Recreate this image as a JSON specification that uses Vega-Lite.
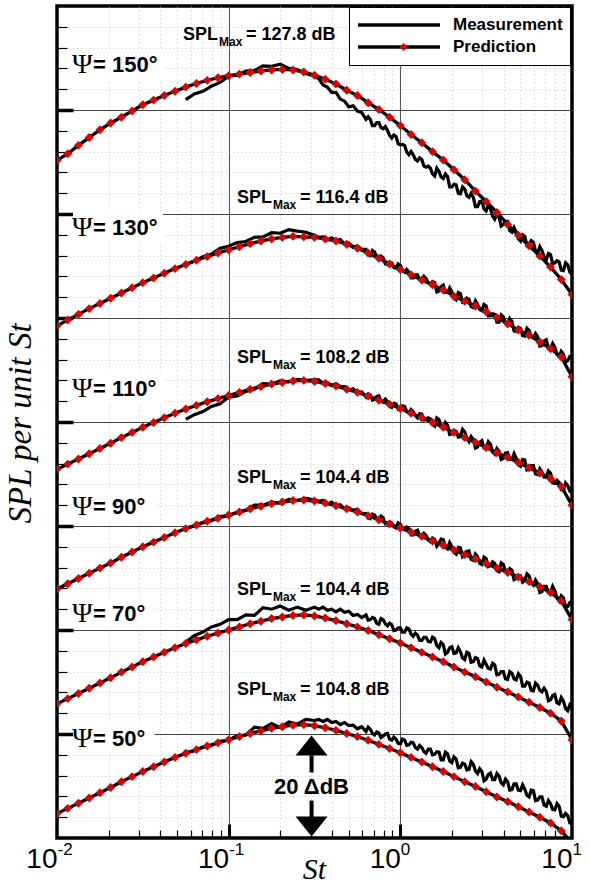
{
  "$schema": "https://vega.github.io/schema/vega-lite/v6.json",
  "width": 515,
  "height": 832,
  "autosize": {"type": "none"},
  "padding": {"left": 57, "top": 6, "right": 18, "bottom": 48},
  "background": "white",
  "config": {
    "view": {"stroke": "black", "strokeWidth": 3.5},
    "axis": {"domain": false, "labelFont": "Liberation Sans", "labelColor": "black"}
  },
  "resolve": {"axis": {"x": "independent", "y": "independent"}},
  "datasets": {
    "pred": [
      {"St":0.01,"p150":130.3,"p130":98.5,"p110":70.9,"p90":47.9,"p70":25.8,"p50":4.7},
      {"St":0.011548,"p150":131.6,"p130":99.6,"p110":71.9,"p90":48.9,"p70":26.8,"p50":5.7},
      {"St":0.013335,"p150":133.2,"p130":100.7,"p110":72.9,"p90":49.9,"p70":27.8,"p50":6.7},
      {"St":0.015399,"p150":134.7,"p130":101.8,"p110":73.9,"p90":50.9,"p70":28.8,"p50":7.7},
      {"St":0.017783,"p150":136.2,"p130":102.8,"p110":74.9,"p90":51.9,"p70":29.8,"p50":8.7},
      {"St":0.020535,"p150":137.5,"p130":103.8,"p110":75.9,"p90":52.9,"p70":30.8,"p50":9.7},
      {"St":0.023714,"p150":138.6,"p130":104.8,"p110":77.0,"p90":54.0,"p70":31.9,"p50":10.8},
      {"St":0.027384,"p150":139.8,"p130":105.8,"p110":78.0,"p90":55.0,"p70":32.9,"p50":11.8},
      {"St":0.031623,"p150":141.0,"p130":106.8,"p110":79.0,"p90":56.0,"p70":33.9,"p50":12.8},
      {"St":0.036517,"p150":141.9,"p130":107.7,"p110":79.9,"p90":56.9,"p70":34.8,"p50":13.7},
      {"St":0.04217,"p150":142.8,"p130":108.6,"p110":80.8,"p90":57.8,"p70":35.7,"p50":14.6},
      {"St":0.048697,"p150":143.6,"p130":109.5,"p110":81.7,"p90":58.7,"p70":36.6,"p50":15.5},
      {"St":0.056234,"p150":144.4,"p130":110.3,"p110":82.5,"p90":59.5,"p70":37.4,"p50":16.3},
      {"St":0.064938,"p150":145.1,"p130":111.1,"p110":83.2,"p90":60.2,"p70":38.1,"p50":17.0},
      {"St":0.074989,"p150":145.7,"p130":111.8,"p110":83.9,"p90":60.9,"p70":38.8,"p50":17.7},
      {"St":0.086596,"p150":146.2,"p130":112.5,"p110":84.5,"p90":61.5,"p70":39.4,"p50":18.3},
      {"St":0.1,"p150":146.6,"p130":113.1,"p110":85.1,"p90":62.1,"p70":40.0,"p50":18.9},
      {"St":0.11548,"p150":146.9,"p130":113.7,"p110":85.7,"p90":62.7,"p70":40.6,"p50":19.5},
      {"St":0.13335,"p150":147.2,"p130":114.3,"p110":86.3,"p90":63.3,"p70":41.2,"p50":20.1},
      {"St":0.15399,"p150":147.5,"p130":114.8,"p110":86.8,"p90":63.8,"p70":41.7,"p50":20.6},
      {"St":0.17783,"p150":147.7,"p130":115.2,"p110":87.3,"p90":64.3,"p70":42.2,"p50":21.1},
      {"St":0.20535,"p150":147.8,"p130":115.5,"p110":87.6,"p90":64.6,"p70":42.5,"p50":21.4},
      {"St":0.23714,"p150":147.7,"p130":115.7,"p110":87.9,"p90":64.9,"p70":42.8,"p50":21.7},
      {"St":0.27384,"p150":147.3,"p130":115.6,"p110":88.0,"p90":65.0,"p70":42.9,"p50":21.8},
      {"St":0.31623,"p150":146.7,"p130":115.5,"p110":87.8,"p90":64.8,"p70":42.7,"p50":21.6},
      {"St":0.36517,"p150":145.9,"p130":115.2,"p110":87.4,"p90":64.4,"p70":42.3,"p50":21.2},
      {"St":0.4217,"p150":145.0,"p130":114.8,"p110":86.9,"p90":63.9,"p70":41.8,"p50":20.7},
      {"St":0.48697,"p150":143.8,"p130":114.2,"p110":86.3,"p90":63.3,"p70":41.2,"p50":20.1},
      {"St":0.56234,"p150":142.8,"p130":113.4,"p110":85.7,"p90":62.7,"p70":40.6,"p50":19.5},
      {"St":0.64938,"p150":141.4,"p130":112.5,"p110":85.0,"p90":62.0,"p70":39.9,"p50":18.8},
      {"St":0.74989,"p150":140.1,"p130":111.5,"p110":84.2,"p90":61.2,"p70":39.1,"p50":18.0},
      {"St":0.86596,"p150":138.6,"p130":110.4,"p110":83.4,"p90":60.4,"p70":38.3,"p50":17.2},
      {"St":1,"p150":137.0,"p130":109.3,"p110":82.6,"p90":59.6,"p70":37.5,"p50":16.4},
      {"St":1.1548,"p150":135.3,"p130":108.3,"p110":81.7,"p90":58.8,"p70":36.6,"p50":15.5},
      {"St":1.3335,"p150":133.7,"p130":107.3,"p110":80.8,"p90":58.0,"p70":35.7,"p50":14.6},
      {"St":1.5399,"p150":132.0,"p130":106.4,"p110":79.9,"p90":57.1,"p70":34.8,"p50":13.7},
      {"St":1.7783,"p150":130.4,"p130":105.4,"p110":79.0,"p90":56.3,"p70":33.9,"p50":12.8},
      {"St":2.0535,"p150":128.5,"p130":104.2,"p110":78.0,"p90":55.4,"p70":32.9,"p50":11.8},
      {"St":2.3714,"p150":126.6,"p130":103.2,"p110":77.0,"p90":54.5,"p70":31.9,"p50":10.8},
      {"St":2.7384,"p150":124.4,"p130":102.3,"p110":76.1,"p90":53.7,"p70":31.0,"p50":9.9},
      {"St":3.1623,"p150":122.4,"p130":101.2,"p110":75.1,"p90":52.8,"p70":30.0,"p50":8.9},
      {"St":3.6517,"p150":120.3,"p130":100.1,"p110":74.1,"p90":51.9,"p70":29.0,"p50":7.9},
      {"St":4.217,"p150":118.0,"p130":98.9,"p110":73.2,"p90":51.1,"p70":28.1,"p50":7.0},
      {"St":4.8697,"p150":115.9,"p130":97.7,"p110":72.2,"p90":50.2,"p70":27.1,"p50":6.0},
      {"St":5.6234,"p150":113.9,"p130":96.7,"p110":71.2,"p90":49.3,"p70":26.1,"p50":5.0},
      {"St":6.4938,"p150":111.9,"p130":95.4,"p110":70.2,"p90":48.3,"p70":25.1,"p50":4.0},
      {"St":7.4989,"p150":109.8,"p130":94.1,"p110":69.1,"p90":47.2,"p70":24.0,"p50":2.9},
      {"St":8.6596,"p150":107.4,"p130":92.5,"p110":67.6,"p90":45.6,"p70":22.5,"p50":1.4},
      {"St":10,"p150":104.5,"p130":88.7,"p110":64.0,"p90":42.0,"p70":18.9,"p50":-1.0}
    ],
    "meas": [
      {"St":0.056234,"m150":142.0,"m130":110.4,"m110":80.5,"m90":59.6,"m70":37.7,"m50":16.4},
      {"St":0.063096,"m150":143.1,"m130":110.9,"m110":81.4,"m90":60.0,"m70":38.9,"m50":16.8},
      {"St":0.070795,"m150":143.6,"m130":111.8,"m110":82.0,"m90":60.7,"m70":39.6,"m50":17.5},
      {"St":0.079433,"m150":144.6,"m130":112.3,"m110":83.0,"m90":61.0,"m70":40.6,"m50":17.8},
      {"St":0.089125,"m150":145.3,"m130":113.4,"m110":83.5,"m90":61.8,"m70":41.1,"m50":18.6},
      {"St":0.1,"m150":146.5,"m130":113.8,"m110":84.8,"m90":62.0,"m70":42.0,"m50":18.8},
      {"St":0.1122,"m150":146.7,"m130":114.5,"m110":85.0,"m90":62.7,"m70":42.0,"m50":19.7},
      {"St":0.12589,"m150":147.5,"m130":114.7,"m110":85.9,"m90":63.0,"m70":42.9,"m50":19.8},
      {"St":0.14125,"m150":147.6,"m130":115.5,"m110":86.3,"m90":64.0,"m70":42.8,"m50":21.3},
      {"St":0.15849,"m150":148.5,"m130":115.6,"m110":87.4,"m90":64.0,"m70":44.3,"m50":21.1},
      {"St":0.17783,"m150":148.4,"m130":116.4,"m110":87.3,"m90":64.6,"m70":44.0,"m50":22.0},
      {"St":0.19953,"m150":148.8,"m130":116.3,"m110":87.9,"m90":64.4,"m70":44.6,"m50":21.2},
      {"St":0.22387,"m150":148.0,"m130":117.0,"m110":87.7,"m90":65.1,"m70":43.8,"m50":22.3},
      {"St":0.25119,"m150":147.8,"m130":116.7,"m110":88.2,"m90":64.9,"m70":44.4,"m50":21.9},
      {"St":0.28184,"m150":147.0,"m130":116.5,"m110":88.0,"m90":65.3,"m70":43.8,"m50":22.8},
      {"St":0.31623,"m150":146.5,"m130":115.9,"m110":88.1,"m90":65.0,"m70":44.4,"m50":22.6},
      {"St":0.33497,"m150":146.0,"m130":115.5,"m110":88.1,"m90":64.8,"m70":44.0,"m50":22.8},
      {"St":0.35481,"m150":144.8,"m130":115.6,"m110":87.4,"m90":64.9,"m70":44.4,"m50":22.4},
      {"St":0.37584,"m150":144.4,"m130":115.0,"m110":87.6,"m90":64.2,"m70":43.8,"m50":22.8},
      {"St":0.39811,"m150":143.4,"m130":115.4,"m110":87.0,"m90":64.6,"m70":44.0,"m50":22.2},
      {"St":0.4217,"m150":143.4,"m130":114.9,"m110":87.4,"m90":63.9,"m70":43.5,"m50":22.4},
      {"St":0.44668,"m150":142.1,"m130":115.1,"m110":86.8,"m90":64.1,"m70":44.0,"m50":21.8},
      {"St":0.47315,"m150":141.7,"m130":114.2,"m110":86.8,"m90":63.3,"m70":43.4,"m50":22.2},
      {"St":0.50119,"m150":140.6,"m130":114.4,"m110":86.1,"m90":63.5,"m70":43.6,"m50":21.6},
      {"St":0.53088,"m150":140.8,"m130":113.6,"m110":86.4,"m90":63.0,"m70":42.8,"m50":21.7},
      {"St":0.56234,"m150":139.8,"m130":113.9,"m110":85.7,"m90":63.2,"m70":43.0,"m50":21.0},
      {"St":0.59566,"m150":139.5,"m130":113.2,"m110":85.8,"m90":62.4,"m70":42.4,"m50":21.4},
      {"St":0.63096,"m150":138.2,"m130":113.2,"m110":84.8,"m90":62.4,"m70":42.9,"m50":20.5},
      {"St":0.66834,"m150":138.2,"m130":112.0,"m110":85.2,"m90":61.4,"m70":42.0,"m50":20.9},
      {"St":0.70795,"m150":137.0,"m130":112.7,"m110":84.4,"m90":62.1,"m70":42.2,"m50":19.8},
      {"St":0.74989,"m150":137.6,"m130":111.4,"m110":85.0,"m90":61.2,"m70":41.1,"m50":20.2},
      {"St":0.79433,"m150":136.4,"m130":111.6,"m110":83.8,"m90":61.6,"m70":42.0,"m50":19.6},
      {"St":0.8414,"m150":136.1,"m130":110.3,"m110":83.9,"m90":60.4,"m70":40.8,"m50":20.1},
      {"St":0.89125,"m150":134.6,"m130":110.6,"m110":82.8,"m90":60.6,"m70":41.0,"m50":18.8},
      {"St":0.94406,"m150":134.9,"m130":109.6,"m110":83.5,"m90":59.6,"m70":40.0,"m50":19.0},
      {"St":1,"m150":133.3,"m130":110.1,"m110":82.6,"m90":60.3,"m70":40.4,"m50":18.1},
      {"St":1.0593,"m150":133.2,"m130":108.8,"m110":83.0,"m90":59.4,"m70":39.6,"m50":18.8},
      {"St":1.122,"m150":131.4,"m130":108.8,"m110":81.7,"m90":59.5,"m70":40.2,"m50":17.9},
      {"St":1.1885,"m150":131.4,"m130":107.7,"m110":82.0,"m90":58.3,"m70":38.8,"m50":18.3},
      {"St":1.2589,"m150":130.2,"m130":108.3,"m110":80.8,"m90":59.2,"m70":39.0,"m50":17.1},
      {"St":1.3335,"m150":130.5,"m130":107.3,"m110":81.5,"m90":57.8,"m70":38.0,"m50":17.4},
      {"St":1.4125,"m150":129.0,"m130":107.6,"m110":80.5,"m90":58.2,"m70":38.6,"m50":16.3},
      {"St":1.4962,"m150":128.8,"m130":106.4,"m110":80.6,"m90":57.0,"m70":37.7,"m50":17.1},
      {"St":1.5849,"m150":127.3,"m130":106.8,"m110":79.2,"m90":57.4,"m70":38.3,"m50":16.1},
      {"St":1.6788,"m150":128.2,"m130":105.2,"m110":80.5,"m90":56.6,"m70":36.6,"m50":16.5},
      {"St":1.7783,"m150":126.8,"m130":106.3,"m110":78.8,"m90":57.4,"m70":37.2,"m50":15.0},
      {"St":1.8836,"m150":127.2,"m130":104.9,"m110":79.4,"m90":55.6,"m70":35.7,"m50":16.2},
      {"St":1.9953,"m150":125.2,"m130":105.0,"m110":77.7,"m90":56.0,"m70":36.8,"m50":14.5},
      {"St":2.1135,"m150":125.6,"m130":103.5,"m110":78.2,"m90":54.6,"m70":35.6,"m50":15.2},
      {"St":2.2387,"m150":123.9,"m130":104.7,"m110":77.2,"m90":55.8,"m70":35.8,"m50":13.6},
      {"St":2.3714,"m150":124.8,"m130":103.0,"m110":78.1,"m90":54.4,"m70":34.3,"m50":14.2},
      {"St":2.5119,"m150":123.2,"m130":103.6,"m110":76.2,"m90":55.2,"m70":35.5,"m50":13.2},
      {"St":2.6607,"m150":123.2,"m130":102.0,"m110":76.7,"m90":53.4,"m70":33.9,"m50":14.2},
      {"St":2.8184,"m150":121.4,"m130":102.6,"m110":75.2,"m90":54.1,"m70":34.5,"m50":12.4},
      {"St":2.9854,"m150":122.5,"m130":101.4,"m110":76.4,"m90":52.6,"m70":32.9,"m50":12.8},
      {"St":3.1623,"m150":120.6,"m130":102.3,"m110":75.0,"m90":53.7,"m70":33.4,"m50":11.3},
      {"St":3.3497,"m150":121.0,"m130":100.4,"m110":75.7,"m90":52.4,"m70":32.5,"m50":12.5},
      {"St":3.5481,"m150":119.0,"m130":100.7,"m110":73.8,"m90":52.8,"m70":33.3,"m50":11.2},
      {"St":3.7584,"m150":119.4,"m130":99.2,"m110":74.4,"m90":51.2,"m70":31.5,"m50":11.9},
      {"St":3.9811,"m150":118.0,"m130":100.2,"m110":73.0,"m90":52.6,"m70":32.0,"m50":10.2},
      {"St":4.217,"m150":118.6,"m130":98.8,"m110":74.1,"m90":50.8,"m70":30.5,"m50":10.8},
      {"St":4.4668,"m150":116.5,"m130":99.4,"m110":72.8,"m90":51.5,"m70":31.7,"m50":9.3},
      {"St":4.7315,"m150":116.5,"m130":97.4,"m110":73.0,"m90":49.9,"m70":30.4,"m50":10.4},
      {"St":5.0119,"m150":114.8,"m130":98.0,"m110":71.5,"m90":50.4,"m70":31.1,"m50":9.1},
      {"St":5.3088,"m150":115.7,"m130":96.5,"m110":72.7,"m90":49.5,"m70":29.2,"m50":9.4},
      {"St":5.6234,"m150":114.2,"m130":97.6,"m110":71.0,"m90":50.4,"m70":29.8,"m50":7.9},
      {"St":5.9566,"m150":114.6,"m130":96.2,"m110":71.6,"m90":48.6,"m70":28.3,"m50":9.1},
      {"St":6.3096,"m150":112.4,"m130":96.4,"m110":69.9,"m90":48.9,"m70":29.4,"m50":7.3},
      {"St":6.6834,"m150":113.0,"m130":94.7,"m110":70.4,"m90":47.4,"m70":28.1,"m50":7.9},
      {"St":7.0795,"m150":111.2,"m130":95.8,"m110":69.4,"m90":48.4,"m70":28.2,"m50":6.1},
      {"St":7.4989,"m150":112.2,"m130":94.0,"m110":70.2,"m90":47.2,"m70":26.6,"m50":6.6},
      {"St":7.9433,"m150":110.6,"m130":94.4,"m110":68.2,"m90":47.6,"m70":27.6,"m50":5.4},
      {"St":8.414,"m150":110.8,"m130":92.6,"m110":68.4,"m90":45.6,"m70":25.8,"m50":6.1},
      {"St":8.9125,"m150":109.1,"m130":93.0,"m110":66.8,"m90":46.2,"m70":26.3,"m50":4.1},
      {"St":9.4406,"m150":110.2,"m130":91.8,"m110":67.8,"m90":44.5,"m70":24.5,"m50":4.3},
      {"St":10,"m150":108.4,"m130":92.5,"m110":66.4,"m90":45.5,"m70":25.0,"m50":2.7},
      {"St":0.64938,"m150":138.7,"m130":112.2,"m110":85.4,"m90":61.5,"m70":41.9,"m50":21.3},
      {"St":0.68786,"m150":137.0,"m130":113.0,"m110":84.2,"m90":62.3,"m70":42.4,"m50":20.1},
      {"St":0.72862,"m150":137.6,"m130":111.8,"m110":84.9,"m90":61.4,"m70":41.3,"m50":20.4},
      {"St":0.77179,"m150":136.6,"m130":111.9,"m110":84.0,"m90":61.9,"m70":42.2,"m50":19.3},
      {"St":0.81752,"m150":136.8,"m130":110.4,"m110":84.4,"m90":60.4,"m70":41.2,"m50":20.0},
      {"St":0.86596,"m150":135.1,"m130":110.6,"m110":83.0,"m90":60.8,"m70":41.3,"m50":19.0},
      {"St":0.91728,"m150":135.2,"m130":109.7,"m110":83.6,"m90":59.8,"m70":39.9,"m50":19.4},
      {"St":0.97163,"m150":133.5,"m130":110.4,"m110":82.5,"m90":60.6,"m70":40.4,"m50":18.2},
      {"St":1.0292,"m150":133.4,"m130":109.2,"m110":83.1,"m90":59.6,"m70":39.6,"m50":19.0},
      {"St":1.0902,"m150":131.9,"m130":109.3,"m110":82.0,"m90":59.8,"m70":40.4,"m50":17.8},
      {"St":1.1548,"m150":132.0,"m130":107.7,"m110":82.4,"m90":58.3,"m70":39.2,"m50":18.4},
      {"St":1.2232,"m150":130.5,"m130":108.3,"m110":81.2,"m90":59.0,"m70":39.4,"m50":17.4},
      {"St":1.2957,"m150":130.8,"m130":107.4,"m110":81.6,"m90":58.1,"m70":38.0,"m50":17.8},
      {"St":1.3725,"m150":129.2,"m130":108.0,"m110":80.4,"m90":58.6,"m70":38.6,"m50":16.6},
      {"St":1.4537,"m150":129.2,"m130":106.8,"m110":80.8,"m90":57.3,"m70":37.8,"m50":17.1},
      {"St":1.5399,"m150":127.7,"m130":107.0,"m110":79.5,"m90":57.7,"m70":38.6,"m50":16.0},
      {"St":1.6312,"m150":128.8,"m130":105.0,"m110":80.8,"m90":56.1,"m70":37.0,"m50":16.6},
      {"St":1.7278,"m150":127.1,"m130":106.0,"m110":79.2,"m90":57.5,"m70":37.6,"m50":15.0},
      {"St":1.8302,"m150":127.7,"m130":104.9,"m110":79.9,"m90":55.9,"m70":35.4,"m50":16.5},
      {"St":1.9386,"m150":125.2,"m130":105.8,"m110":77.6,"m90":56.8,"m70":36.6,"m50":14.8},
      {"St":2.0535,"m150":125.7,"m130":103.8,"m110":78.4,"m90":54.9,"m70":35.5,"m50":15.6},
      {"St":2.1752,"m150":124.0,"m130":104.9,"m110":77.1,"m90":55.9,"m70":36.6,"m50":13.5},
      {"St":2.3041,"m150":125.2,"m130":103.0,"m110":78.6,"m90":54.1,"m70":34.6,"m50":14.4},
      {"St":2.4406,"m150":123.5,"m130":103.8,"m110":76.8,"m90":55.1,"m70":35.7,"m50":13.1},
      {"St":2.5853,"m150":124.0,"m130":102.2,"m110":77.2,"m90":53.6,"m70":33.8,"m50":14.7},
      {"St":2.7384,"m150":121.4,"m130":103.3,"m110":75.0,"m90":54.6,"m70":34.7,"m50":12.9},
      {"St":2.9007,"m150":122.4,"m130":101.6,"m110":76.1,"m90":52.8,"m70":33.1,"m50":13.3},
      {"St":3.0726,"m150":121.0,"m130":102.6,"m110":75.0,"m90":54.0,"m70":34.2,"m50":11.0},
      {"St":3.2546,"m150":121.8,"m130":100.4,"m110":76.2,"m90":52.2,"m70":32.6,"m50":12.2},
      {"St":3.4475,"m150":119.6,"m130":100.8,"m110":74.2,"m90":53.1,"m70":33.6,"m50":11.2},
      {"St":3.6517,"m150":119.9,"m130":99.2,"m110":74.9,"m90":51.4,"m70":31.4,"m50":12.4},
      {"St":3.8681,"m150":117.7,"m130":100.6,"m110":72.8,"m90":52.9,"m70":32.0,"m50":10.6},
      {"St":4.0973,"m150":118.6,"m130":99.0,"m110":74.0,"m90":51.3,"m70":30.6,"m50":11.3},
      {"St":4.3401,"m150":116.8,"m130":99.9,"m110":72.8,"m90":51.8,"m70":32.0,"m50":9.2},
      {"St":4.5973,"m150":117.4,"m130":97.5,"m110":73.9,"m90":49.7,"m70":30.6,"m50":10.4},
      {"St":4.8697,"m150":115.2,"m130":98.2,"m110":71.8,"m90":50.4,"m70":31.6,"m50":9.2},
      {"St":5.1582,"m150":116.0,"m130":96.6,"m110":72.8,"m90":49.2,"m70":29.2,"m50":10.2},
      {"St":5.4638,"m150":114.0,"m130":98.0,"m110":70.8,"m90":50.8,"m70":30.0,"m50":8.2},
      {"St":5.7876,"m150":114.9,"m130":96.5,"m110":71.6,"m90":49.0,"m70":28.4,"m50":9.2},
      {"St":6.1306,"m150":112.9,"m130":97.0,"m110":70.0,"m90":49.6,"m70":29.8,"m50":7.2},
      {"St":6.4938,"m150":113.7,"m130":94.6,"m110":71.0,"m90":47.2,"m70":28.4,"m50":7.9},
      {"St":6.8785,"m150":111.7,"m130":95.6,"m110":69.4,"m90":48.4,"m70":28.8,"m50":6.3},
      {"St":7.2862,"m150":112.4,"m130":94.2,"m110":70.6,"m90":47.2,"m70":26.4,"m50":7.2},
      {"St":7.7179,"m150":110.4,"m130":95.1,"m110":68.3,"m90":48.4,"m70":27.4,"m50":5.5},
      {"St":8.1752,"m150":111.0,"m130":93.0,"m110":68.8,"m90":46.2,"m70":26.0,"m50":6.6},
      {"St":8.6596,"m150":109.2,"m130":93.6,"m110":67.0,"m90":46.6,"m70":27.0,"m50":4.2},
      {"St":9.1728,"m150":110.6,"m130":91.5,"m110":68.3,"m90":44.4,"m70":24.9,"m50":4.7},
      {"St":9.7163,"m150":108.8,"m130":92.6,"m110":66.7,"m90":45.3,"m70":25.6,"m50":2.9}
    ],
    "psi": [
      {"lab":"= 150°","xs":0.01223,"yc":148.6,"bx0":0.0124,"bx1":0.0415,"by0":145.7,"by1":151.5},
      {"lab":"= 130°","xs":0.01223,"yc":117.4,"bx0":0.0124,"bx1":0.0415,"by0":114.5,"by1":120.3},
      {"lab":"= 110°","xs":0.01223,"yc":86.4,"bx0":0.0124,"bx1":0.0415,"by0":83.5,"by1":89.3},
      {"lab":"= 90°","xs":0.01223,"yc":63.6,"bx0":0.0124,"bx1":0.037,"by0":60.9,"by1":66.3},
      {"lab":"= 70°","xs":0.01223,"yc":43.1,"bx0":0.0124,"bx1":0.037,"by0":40.4,"by1":45.8},
      {"lab":"= 50°","xs":0.01223,"yc":19.1,"bx0":0.0124,"bx1":0.037,"by0":16.2,"by1":22.0}
    ],
    "spl": [
      {"xs":0.0542,"yc":154.4,"val":"= 127.8 dB"},
      {"xs":0.1117,"yc":123.1,"val":"= 116.4 dB"},
      {"xs":0.1117,"yc":92.3,"val":"= 108.2 dB"},
      {"xs":0.1117,"yc":69.2,"val":"= 104.4 dB"},
      {"xs":0.1117,"yc":47.7,"val":"= 104.4 dB"},
      {"xs":0.1117,"yc":28.5,"val":"= 104.8 dB"}
    ],
    "arrow": [
      {"St":0.304,"y0":15.9,"y1":12.6},
      {"St":0.304,"y0":7.2,"y1":3.6}
    ]
  },
  "layer": [
    {
      "data": {"name": "psi"},
      "mark": {"type": "rect", "fill": "white"},
      "encoding": {
        "x": {"field": "bx0", "type": "quantitative", "scale": {"type": "log", "domain": [0.01, 10], "nice": false},
          "axis": {"orient": "bottom", "values": [0.02,0.03,0.04,0.05,0.06,0.07,0.08,0.09,0.2,0.3,0.4,0.5,0.6,0.7,0.8,0.9,2,3,4,5,6,7,8,9],
            "ticks": true, "tickSize": -8, "tickWidth": 1.2, "tickColor": "black", "labels": false,
            "grid": true, "gridColor": "#bbbbbb", "gridDash": [1, 3], "gridWidth": 0.8, "domain": false, "title": null}},
        "x2": {"field": "bx1"},
        "y": {"field": "by0", "type": "quantitative", "scale": {"domain": [0, 160], "nice": false, "zero": false},
          "axis": {"orient": "left", "values": [4,8,12,16,24,28,32,36,44,48,52,56,64,68,72,76,84,88,92,96,104,108,112,116,124,128,132,136,144,148,152,156],
            "ticks": true, "tickSize": -10, "tickWidth": 1.2, "tickColor": "black", "labels": false,
            "grid": true, "gridColor": "#bbbbbb", "gridDash": [1, 3], "gridWidth": 0.8, "domain": false, "title": null}},
        "y2": {"field": "by1"}
      }
    },
    {
      "data": {"name": "meas"},
      "transform": [{"fold": ["m150","m130","m110","m90","m70","m50"], "as": ["series","spl"]}],
      "mark": {"type": "line", "strokeWidth": 3.2, "strokeJoin": "miter", "clip": true},
      "encoding": {
        "x": {"field": "St", "type": "quantitative",
          "axis": {"orient": "bottom", "values": [0.1, 1], "ticks": true, "tickSize": -14, "tickWidth": 3, "tickColor": "black",
            "labels": false, "grid": true, "gridColor": "#555555", "gridWidth": 1.1, "domain": false, "title": null}},
        "y": {"field": "spl", "type": "quantitative",
          "axis": {"orient": "left", "values": [20,40,60,80,100,120,140], "ticks": true, "tickSize": -16, "tickWidth": 3.5, "tickColor": "black",
            "labels": false, "grid": true, "gridColor": "#444444", "gridWidth": 1.2, "domain": false,
            "title": "SPL per unit St", "titleFont": "Liberation Serif", "titleFontStyle": "italic", "titleFontWeight": "normal",
            "titleFontSize": 33, "titleColor": "black", "titleX": -37, "titleY": 417, "titleAngle": -90, "titleAlign": "center", "titleBaseline": "middle"}},
        "detail": {"field": "series"},
        "stroke": {"datum": "Measurement", "type": "nominal",
          "scale": {"domain": ["Measurement", "Prediction"], "range": ["black", "black"]},
          "legend": {"orient": "none", "legendX": 292, "legendY": 1, "title": null, "symbolType": "stroke", "symbolSize": 6724,
            "symbolStrokeWidth": 3.5, "clipHeight": 22, "rowPadding": 0, "padding": 7, "strokeColor": "black", "fillColor": "white",
            "labelFont": "Liberation Sans", "labelFontSize": 17, "labelFontWeight": "bold", "labelOffset": 11, "labelColor": "black", "zindex": 0}}
      }
    },
    {
      "data": {"name": "pred"},
      "transform": [{"fold": ["p150","p130","p110","p90","p70","p50"], "as": ["series","spl"]}],
      "mark": {"type": "line", "strokeWidth": 3.3, "clip": true},
      "encoding": {
        "x": {"field": "St", "type": "quantitative",
          "axis": {"orient": "bottom", "values": [0.01, 0.1, 1, 10], "ticks": false, "grid": false, "domain": false,
            "labels": true, "labelExpr": "'10'", "labelFont": "Liberation Sans", "labelFontSize": 28, "labelColor": "black",
            "labelAlign": "right", "labelBaseline": "alphabetic", "labelPadding": 29, "labelFlush": false, "labelOverlap": false, "labelBound": false,
            "encode": {"labels": {"update": {"dx": {"signal": "datum.value < 0.011 ? 11 : (datum.value > 9.9 ? 5 : 0)"}}}},
            "title": "St", "titleFont": "Liberation Serif", "titleFontStyle": "italic", "titleFontWeight": "normal", "titleFontSize": 30,
            "titleColor": "black", "titleX": 257, "titleY": 31, "titleAlign": "center", "titleBaseline": "middle"}},
        "y": {"field": "spl", "type": "quantitative", "axis": null},
        "detail": {"field": "series"},
        "stroke": {"datum": "Prediction", "type": "nominal",
          "scale": {"domain": ["Measurement", "Prediction"], "range": ["black", "black"]},
          "legend": {"orient": "none", "legendX": 292, "legendY": 1, "title": null, "symbolType": "stroke", "symbolSize": 6724,
            "symbolStrokeWidth": 3.5, "clipHeight": 22, "rowPadding": 0, "padding": 7, "strokeColor": "black", "fillColor": "white",
            "labelFont": "Liberation Sans", "labelFontSize": 17, "labelFontWeight": "bold", "labelOffset": 11, "labelColor": "black", "zindex": 0}}
      }
    },
    {
      "data": {"name": "pred"},
      "transform": [{"fold": ["p150","p130","p110","p90","p70","p50"], "as": ["series","spl"]}],
      "mark": {"type": "point", "shape": "diamond", "filled": true, "size": 80, "opacity": 1, "clip": true},
      "encoding": {
        "x": {"field": "St", "type": "quantitative",
          "axis": {"orient": "bottom", "values": [0.01, 0.1, 1, 10], "ticks": false, "grid": false, "domain": false,
            "labels": true, "labelExpr": "datum.value < 0.011 ? '-2' : (datum.value < 0.11 ? '-1' : (datum.value < 1.1 ? '0' : '1'))",
            "labelFont": "Liberation Sans", "labelFontSize": 17, "labelColor": "black",
            "labelAlign": "left", "labelBaseline": "alphabetic", "labelPadding": 16, "labelFlush": false, "labelOverlap": false, "labelBound": false,
            "encode": {"labels": {"update": {"dx": {"signal": "datum.value < 0.011 ? 12 : (datum.value > 9.9 ? 6 : 1)"}}}},
            "title": null}},
        "y": {"field": "spl", "type": "quantitative", "axis": null},
        "detail": {"field": "series"},
        "fill": {"datum": "Prediction", "type": "nominal",
          "scale": {"domain": ["Measurement ", "Prediction"], "range": ["rgba(0,0,0,0)", "#e00000"]},
          "legend": {"orient": "none", "legendX": 292, "legendY": 1, "title": null, "symbolType": "diamond", "symbolSize": 64,
            "symbolStrokeWidth": 0, "symbolOffset": 39, "clipHeight": 22, "rowPadding": 0, "padding": 7,
            "labelExpr": "''", "labelFontSize": 17, "zindex": 1}}
      }
    },
    {
      "data": {"name": "psi"},
      "mark": {"type": "text", "font": "Liberation Serif", "fontSize": 28, "align": "left", "baseline": "middle", "color": "black"},
      "encoding": {
        "x": {"field": "xs", "type": "quantitative", "axis": null},
        "y": {"field": "yc", "type": "quantitative", "axis": null},
        "text": {"value": "Ψ"}
      }
    },
    {
      "data": {"name": "psi"},
      "mark": {"type": "text", "font": "Liberation Sans", "fontWeight": "bold", "fontSize": 22, "align": "left", "baseline": "middle", "dx": 21, "color": "black"},
      "encoding": {
        "x": {"field": "xs", "type": "quantitative", "axis": null},
        "y": {"field": "yc", "type": "quantitative", "axis": null},
        "text": {"field": "lab"}
      }
    },
    {
      "data": {"name": "spl"},
      "mark": {"type": "text", "font": "Liberation Sans", "fontWeight": "bold", "fontSize": 18, "align": "left", "baseline": "middle", "color": "black"},
      "encoding": {
        "x": {"field": "xs", "type": "quantitative", "axis": null},
        "y": {"field": "yc", "type": "quantitative", "axis": null},
        "text": {"value": "SPL"}
      }
    },
    {
      "data": {"name": "spl"},
      "mark": {"type": "text", "font": "Liberation Sans", "fontWeight": "bold", "fontSize": 12, "align": "left", "baseline": "middle", "dx": 36, "dy": 7, "color": "black"},
      "encoding": {
        "x": {"field": "xs", "type": "quantitative", "axis": null},
        "y": {"field": "yc", "type": "quantitative", "axis": null},
        "text": {"value": "Max"}
      }
    },
    {
      "data": {"name": "spl"},
      "mark": {"type": "text", "font": "Liberation Sans", "fontWeight": "bold", "fontSize": 18, "align": "left", "baseline": "middle", "dx": 63, "color": "black"},
      "encoding": {
        "x": {"field": "xs", "type": "quantitative", "axis": null},
        "y": {"field": "yc", "type": "quantitative", "axis": null},
        "text": {"field": "val"}
      }
    },
    {
      "data": {"name": "arrow"},
      "mark": {"type": "rule", "strokeWidth": 4, "color": "black"},
      "encoding": {
        "x": {"field": "St", "type": "quantitative", "axis": null},
        "y": {"field": "y0", "type": "quantitative", "axis": null},
        "y2": {"field": "y1"}
      }
    },
    {
      "data": {"values": [{}]},
      "mark": {"type": "point", "shape": "M0,0L1,1.25L-1,1.25Z", "filled": true, "fill": "black", "size": 1024, "opacity": 1},
      "encoding": {
        "x": {"datum": 0.304, "type": "quantitative", "axis": null},
        "y": {"datum": 19.7, "type": "quantitative", "axis": null}
      }
    },
    {
      "data": {"values": [{}]},
      "mark": {"type": "point", "shape": "M0,0L1,-1.25L-1,-1.25Z", "filled": true, "fill": "black", "size": 1024, "opacity": 1},
      "encoding": {
        "x": {"datum": 0.304, "type": "quantitative", "axis": null},
        "y": {"datum": 0.3, "type": "quantitative", "axis": null}
      }
    },
    {
      "data": {"values": [{}]},
      "mark": {"type": "text", "font": "Liberation Sans", "fontWeight": "bold", "fontSize": 22, "align": "center", "baseline": "middle", "color": "black"},
      "encoding": {
        "x": {"datum": 0.304, "type": "quantitative", "axis": null},
        "y": {"datum": 9.8, "type": "quantitative", "axis": null},
        "text": {"value": "20 ΔdB"}
      }
    }
  ]
}
